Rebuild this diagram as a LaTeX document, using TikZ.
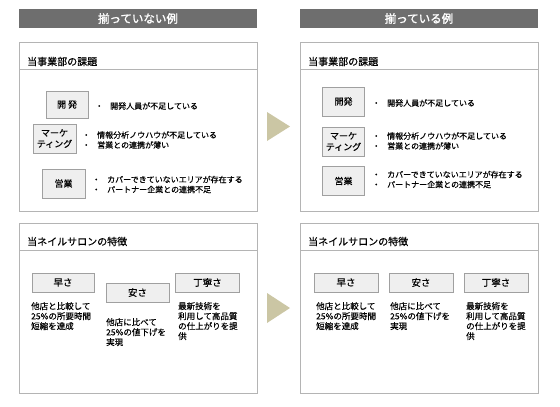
\documentclass[tikz,border=0pt]{standalone}
\usepackage{fontspec}
\setmainfont{Noto Sans CJK JP}[FakeBold=0.4]
\newfontfamily\heavyjp{Noto Sans CJK JP}[FakeBold=1.5]
\definecolor{headgray}{HTML}{6E6E6E}
\definecolor{framegray}{HTML}{B4B4B4}
\definecolor{tagfill}{HTML}{EFEFEF}
\definecolor{tagdraw}{HTML}{A0A0A0}
\definecolor{arrowtan}{HTML}{CBC6A4}
\newcommand{\dotitem}[1]{\makebox[15pt][l]{・}#1}
\begin{document}
\begin{tikzpicture}[x=1pt,y=-1pt,
    header/.style={fill=headgray, text=white, minimum width=238pt, minimum height=19pt, inner sep=0pt, font=\heavyjp\fontsize{11.5}{13}\selectfont},
    panel/.style={draw=framegray, line width=1pt, anchor=north west, minimum width=238pt, inner sep=0pt},
    title/.style={anchor=west, inner sep=0pt, font=\fontsize{10}{12}\selectfont},
    tag/.style={draw=tagdraw, fill=tagfill, line width=0.7pt, inner sep=0pt, align=center, font=\fontsize{9}{11}\selectfont},
    note/.style={anchor=west, inner sep=0pt, align=left, font=\fontsize{8}{10}\selectfont},
    point/.style={anchor=north west, inner sep=0pt, align=left, font=\fontsize{8.5}{10}\selectfont}]
    \useasboundingbox (0,0) rectangle (560,407);

    % left: not aligned
    \node (headL) at (138,18.5) [header] {揃っていない例};

    \node (issuesL) at (19,42) [panel, minimum height=169pt] {};
    \draw[framegray, line width=1pt] ([yshift=-27pt]issuesL.north west) -- ([yshift=-27pt]issuesL.north east);
    \node (issuesLt) at (27,61.5) [title] {当事業部の課題};

    \node (devL) at (67,104.5) [tag, minimum width=42pt, minimum height=27pt] {開 発};
    \node (devLn) at (95,106) [note] {\dotitem{開発人員が不足している}};
    \node (mktL) at (54.5,138.5) [tag, minimum width=43pt, minimum height=29pt] {マーケ\\ティング};
    \node (mktLn) at (82,140) [note] {\dotitem{情報分析ノウハウが不足している}\\\dotitem{営業との連携が薄い}};
    \node (salesL) at (63.5,183.5) [tag, minimum width=43pt, minimum height=29pt] {営業};
    \node (salesLn) at (92,184.5) [note] {\dotitem{カバーできていないエリアが存在する}\\\dotitem{パートナー企業との連携不足}};

    \node (featL) at (19,223) [panel, minimum height=170pt] {};
    \draw[framegray, line width=1pt] ([yshift=-27pt]featL.north west) -- ([yshift=-27pt]featL.north east);
    \node (featLt) at (27,241.5) [title] {当ネイルサロンの特徴};

    \node (fastL) at (63,282.5) [tag, minimum width=62pt, minimum height=19pt, font=\fontsize{9.5}{11}\selectfont] {早さ};
    \node (fastLn) at (31,302) [point] {他店と比較して\\25\%の所要時間\\短縮を達成};
    \node (cheapL) at (137.5,292.5) [tag, minimum width=63pt, minimum height=19pt, font=\fontsize{9.5}{11}\selectfont] {安さ};
    \node (cheapLn) at (106,318) [point] {他店に比べて\\25\%の値下げを\\実現};
    \node (careL) at (207.5,282.5) [tag, minimum width=64pt, minimum height=19pt, font=\fontsize{9.5}{11}\selectfont] {丁寧さ};
    \node (careLn) at (178,302) [point] {最新技術を\\利用して高品質\\の仕上がりを提\\供};

    % arrows
    \fill[arrowtan] (267,112) -- (267,141) -- (290,126.5) -- cycle;
    \fill[arrowtan] (267,293) -- (267,323) -- (290,308) -- cycle;

    % right: aligned
    \node (headR) at (419,18.5) [header] {揃っている例};

    \node (issuesR) at (300,42) [panel, minimum height=169pt] {};
    \draw[framegray, line width=1pt] ([yshift=-27pt]issuesR.north west) -- ([yshift=-27pt]issuesR.north east);
    \node (issuesRt) at (308,61.5) [title] {当事業部の課題};

    \node (devR) at (343.5,101.5) [tag, minimum width=42pt, minimum height=29pt] {開発};
    \node (devRn) at (372,103) [note] {\dotitem{開発人員が不足している}};
    \node (mktR) at (343.5,141.5) [tag, minimum width=42pt, minimum height=29pt] {マーケ\\ティング};
    \node (mktRn) at (372,141) [note] {\dotitem{情報分析ノウハウが不足している}\\\dotitem{営業との連携が薄い}};
    \node (salesR) at (343.5,181) [tag, minimum width=42pt, minimum height=29pt] {営業};
    \node (salesRn) at (372,179.5) [note] {\dotitem{カバーできていないエリアが存在する}\\\dotitem{パートナー企業との連携不足}};

    \node (featR) at (300,223) [panel, minimum height=170pt] {};
    \draw[framegray, line width=1pt] ([yshift=-27pt]featR.north west) -- ([yshift=-27pt]featR.north east);
    \node (featRt) at (308,241.5) [title] {当ネイルサロンの特徴};

    \node (fastR) at (346,282.5) [tag, minimum width=64pt, minimum height=19pt, font=\fontsize{9.5}{11}\selectfont] {早さ};
    \node (fastRn) at (316,302) [point] {他店と比較して\\25\%の所要時間\\短縮を達成};
    \node (cheapR) at (421,282.5) [tag, minimum width=64pt, minimum height=19pt, font=\fontsize{9.5}{11}\selectfont] {安さ};
    \node (cheapRn) at (390,302) [point] {他店に比べて\\25\%の値下げを\\実現};
    \node (careR) at (496,282.5) [tag, minimum width=64pt, minimum height=19pt, font=\fontsize{9.5}{11}\selectfont] {丁寧さ};
    \node (careRn) at (466,302) [point] {最新技術を\\利用して高品質\\の仕上がりを提\\供};
\end{tikzpicture}
\end{document}
